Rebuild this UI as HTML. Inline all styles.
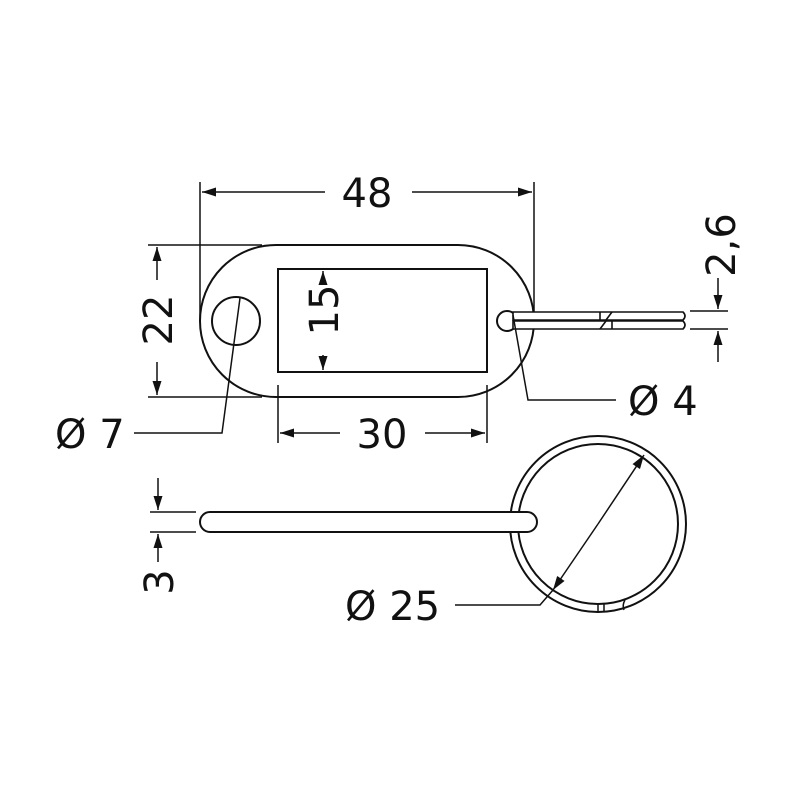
<!DOCTYPE html>
<html><head><style>html,body{margin:0;padding:0;background:#fff}svg{display:block}text{font-family:"DejaVu Sans","Liberation Sans",sans-serif;fill:#111}</style></head>
<body>
<svg width="800" height="800" viewBox="0 0 800 800" xmlns="http://www.w3.org/2000/svg">
<defs>
<marker id="a" viewBox="0 0 14 9" refX="14" refY="4.5" markerWidth="14" markerHeight="9" markerUnits="userSpaceOnUse" orient="auto"><path d="M0,0L14,4.5L0,9z" fill="#111"/></marker>
</defs>
<g stroke="#111" fill="none" stroke-width="2">
<path d="M276,245 H458 A76,76 0 0 1 458,397 H276 A76,76 0 0 1 276,245 Z"/>
<circle cx="236" cy="321" r="24"/>
<rect x="278" y="269" width="209" height="103"/>
<circle cx="507" cy="321" r="10" fill="#fff"/>
</g>
<g stroke="#111" fill="#fff" stroke-width="1.6">
<path d="M513,312 H683 Q687,316 683,320 H513 Z"/>
<path d="M513,321 H683 Q687,325 683,329 H513 Z"/>
<path d="M600,312 V320 M612,312 L606,320 M606,321 L600,329 M612,321 V329" fill="none"/>
</g>
<g stroke="#111" fill="none" stroke-width="1.5">
<line x1="200" y1="182" x2="200" y2="322"/>
<line x1="534" y1="182" x2="534" y2="312"/>
<line x1="325" y1="192" x2="202" y2="192" marker-end="url(#a)"/>
<line x1="412" y1="192" x2="532" y2="192" marker-end="url(#a)"/>
<line x1="148" y1="245" x2="262" y2="245"/>
<line x1="148" y1="397" x2="262" y2="397"/>
<line x1="157" y1="280" x2="157" y2="247" marker-end="url(#a)"/>
<line x1="157" y1="362" x2="157" y2="395" marker-end="url(#a)"/>
<line x1="323" y1="285" x2="323" y2="271" marker-end="url(#a)"/>
<line x1="323" y1="355" x2="323" y2="370" marker-end="url(#a)"/>
<line x1="278" y1="385" x2="278" y2="443"/>
<line x1="487" y1="385" x2="487" y2="443"/>
<line x1="340" y1="433" x2="280" y2="433" marker-end="url(#a)"/>
<line x1="425" y1="433" x2="485" y2="433" marker-end="url(#a)"/>
<polyline points="240,298 222,433 134,433"/>
<polyline points="513,315 528,400 616,400"/>
<line x1="690" y1="311" x2="728" y2="311"/>
<line x1="690" y1="329" x2="728" y2="329"/>
<line x1="718" y1="278" x2="718" y2="309" marker-end="url(#a)"/>
<line x1="718" y1="362" x2="718" y2="331" marker-end="url(#a)"/>
<line x1="150" y1="512" x2="196" y2="512"/>
<line x1="150" y1="532" x2="196" y2="532"/>
<line x1="158" y1="478" x2="158" y2="510" marker-end="url(#a)"/>
<line x1="158" y1="562" x2="158" y2="534" marker-end="url(#a)"/>
</g>
<g stroke="#111" fill="none" stroke-width="2">
<circle cx="598" cy="524" r="88"/>
<circle cx="598" cy="524" r="80"/>
<path d="M598,604 V612 M604,604 V612 M625,600 Q622,605 624,610" stroke-width="1.5"/>
<rect x="200" y="512" width="337" height="20" rx="10" fill="#fff"/>
</g>
<g stroke="#111" fill="none" stroke-width="1.5">
<line x1="598" y1="524" x2="644" y2="455" marker-end="url(#a)"/>
<line x1="598" y1="524" x2="553" y2="590" marker-end="url(#a)"/>
<polyline points="455,605 540,605 553,590"/>
</g>
<g font-size="40">
<text x="367" y="207" text-anchor="middle">48</text>
<text x="382" y="448" text-anchor="middle">30</text>
<text x="55" y="448">Ø 7</text>
<text x="628" y="415">Ø 4</text>
<text x="345" y="620">Ø 25</text>
<text transform="translate(172,320) rotate(-90)" text-anchor="middle">22</text>
<text transform="translate(338,310) rotate(-90)" text-anchor="middle">15</text>
<text transform="translate(735,245) rotate(-90)" text-anchor="middle">2,6</text>
<text transform="translate(173,582) rotate(-90)" text-anchor="middle">3</text>
</g>
</svg>
</body></html>
